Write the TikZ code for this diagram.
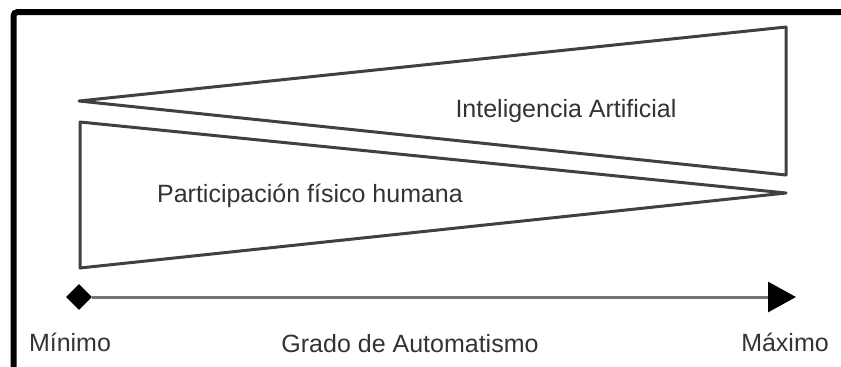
\documentclass[tikz,border=0pt]{standalone}
\usepackage{fontspec}
\setmainfont{Liberation Sans}
\usetikzlibrary{shapes.geometric, arrows.meta, positioning}

\begin{document}
\begin{tikzpicture}[
    x=0.5pt, y=-0.5pt,
    wedge/.style={draw=black!75, line width=1.5pt, line join=round},
    label/.style={text=black!80, font=\fontsize{12.5}{15}\selectfont, inner sep=0pt, anchor=base},
    axis/.style={draw=black!55, line width=1.5pt, -{Triangle[length=14pt, width=15pt, color=black]}},
    tip/.style={diamond, fill=black, minimum size=13pt, inner sep=0pt}
]
\useasboundingbox (0,0) rectangle (841,366);

% frame
\draw[line width=3pt, rounded corners=2pt] (13.5,370) -- (13.5,12) -- (845,12);

% upper wedge: artificial intelligence
\draw[wedge] (79,101) -- (786,27) -- (786,175) -- cycle;
\node[label] (ia) at (566,117) {Inteligencia Artificial};

% lower wedge: human participation
\draw[wedge] (786,193) -- (80,122) -- (80,268) -- cycle;
\node[label] (human) at (310,202) {Participación físico humana};

% axis
\node[tip] (low) at (79,297) {};
\coordinate (high) at (796,297);
\draw[axis] (low.east) -- (high);

\node[label] (min) at (70,351) {Mínimo};
\node[label] (grade) at (410,352) {Grado de Automatismo};
\node[label] (max) at (785,351) {Máximo};
\end{tikzpicture}
\end{document}
